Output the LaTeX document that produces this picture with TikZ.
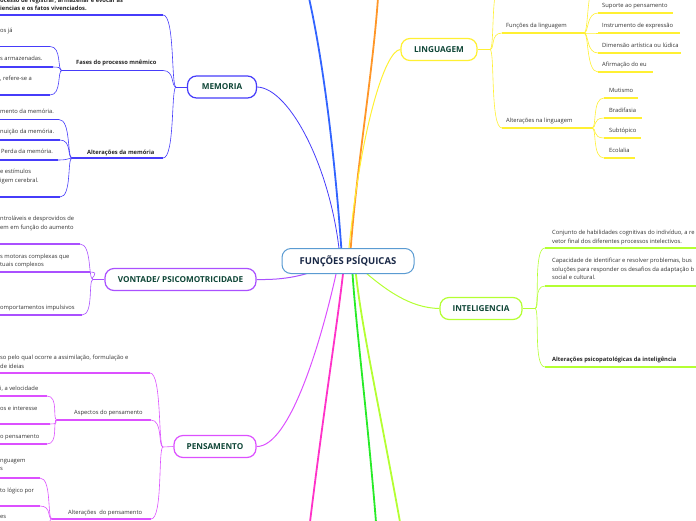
\documentclass[tikz,border=0pt]{standalone}
\usepackage{fontspec}
\setmainfont{Open Sans}
\usetikzlibrary{backgrounds}

\definecolor{memcol}{RGB}{70,60,250}
\definecolor{vontcol}{RGB}{170,80,255}
\definecolor{penscol}{RGB}{220,80,255}
\definecolor{lingcol}{RGB}{255,240,50}
\definecolor{intcol}{RGB}{180,255,50}
\definecolor{offblue}{RGB}{50,100,255}
\definecolor{offorange}{RGB}{255,150,40}
\definecolor{offmag}{RGB}{255,50,200}
\definecolor{offgreen}{RGB}{40,235,40}
\definecolor{cencol}{RGB}{90,155,210}
\definecolor{toptxt}{RGB}{15,70,55}
\definecolor{centxt}{RGB}{25,40,70}
\definecolor{leaftxt}{RGB}{50,50,50}

\begin{document}
\begin{tikzpicture}
  [
  x=1pt, y=-1pt,
  central/.style={draw=cencol, line width=1pt, fill=white, rounded corners=9pt, minimum width=132pt, minimum height=25pt, font=\fontsize{9.5}{11}\selectfont\bfseries, text=centxt},
  topic/.style={draw=#1, line width=1.2pt, fill=white, rounded corners=9pt, minimum height=22pt, inner sep=2pt, font=\fontsize{8.2}{9}\selectfont\bfseries, text=toptxt},
  leaf/.style={inner sep=0pt, align=left, anchor=north west, font=\fontsize{5.8}{8.5}\selectfont, text=leaftxt},
  bleaf/.style={leaf, font=\fontsize{5.8}{8.5}\selectfont\bfseries, text=black!85},
  mainline/.style={line width=1pt},
  offline/.style={line width=1.8pt},
  twig/.style={line width=0.6pt},
  uline/.style={line width=1.5pt},
  lcurve/.style={out=180, in=0, out distance=5pt, in distance=12pt},
  rcurve/.style={out=0, in=180, out distance=5pt, in distance=12pt}
  ]
  \path[use as bounding box] (0,0) rectangle (696,520);
  \clip (0,0) rectangle (696,520);
  \coordinate (L) at (0,0);
  \coordinate (R) at (700,0);

  \node[central] (fp) at (348,261) {FUNÇÕES PSÍQUICAS};
  \node[topic=memcol, minimum width=69pt] (mem) at (222,87) {MEMORIA};
  \node[topic=lingcol, minimum width=76pt] (ling) at (439,49.5) {LINGUAGEM};
  \node[topic=vontcol, minimum width=151pt] (vont) at (180.5,279.5) {VONTADE/ PSICOMOTRICIDADE};
  \node[topic=intcol, minimum width=82pt] (intel) at (481,308.5) {INTELIGENCIA};
  \node[topic=penscol, minimum width=82pt] (pens) at (215,446.5) {PENSAMENTO};

  \coordinate (offA) at (309,-2);
  \coordinate (offB) at (378,-2);
  \coordinate (offC) at (310,522);
  \coordinate (offD) at (376,522);
  \coordinate (offE) at (400,522);

  % memoria
  \coordinate (memH) at (176,87);
  \node[bleaf] (m0) at (0,-2.5) {ocesso de registrar, armazenar e evocar as\\iencias e os fatos vivenciados.};
  \coordinate (m0e) at (163,15);
  \node[bleaf] (fas) at (76,59.5) {Fases do processo mnêmico};
  \coordinate (fasE) at (163,70.5);
  \coordinate (fasH) at (62,70.5);
  \node[leaf] (fa1) at (0,28) {os já};
  \coordinate (fa1e) at (50,46.5);
  \node[leaf] (fa2) at (0,55.5) {s armazenadas.};
  \coordinate (fa2e) at (53,67);
  \node[leaf] (fa3) at (0,76) {, refere-se a};
  \coordinate (fa3e) at (50,95);
  \node[bleaf] (alm) at (87,149.5) {Alterações da memória};
  \coordinate (almE) at (163,158);
  \coordinate (almH) at (72,158);
  \node[leaf] (am1) at (0,109) {mento da memória.};
  \coordinate (am1e) at (59,119.5);
  \node[leaf] (am2) at (0,129) {nuição da memória.};
  \coordinate (am2e) at (60,140);
  \node[leaf] (am3) at (1,149) {Perda da memória.};
  \coordinate (am3e) at (58,160);
  \node[leaf] (am4) at (0,169) {e estímulos\\igem cerebral.};
  \coordinate (am4e) at (60,197);

  % vontade
  \coordinate (vontH) at (93,279.5);
  \node[leaf] (v1) at (0,216) {ntroláveis e desprovidos de\\em em função do aumento};
  \coordinate (v1e) at (80,244);
  \node[leaf] (v2) at (0,253.5) {s motoras complexas que\\tuais complexos};
  \coordinate (v2e) at (90,272);
  \node[leaf] (v3) at (0,305) {omportamentos impulsivos};
  \coordinate (v3e) at (82,315);

  % pensamento
  \coordinate (pensH) at (163,447);
  \node[leaf] (p1) at (0,355) {so pelo qual ocorre a assimilação, formulação e\\de ideias};
  \coordinate (p1e) at (150,373);
  \node[leaf] (asp) at (74,410) {Aspectos do pensamento};
  \coordinate (aspE) at (151,420);
  \coordinate (aspH) at (57,420);
  \node[leaf] (pa1) at (0,386) {i, a velocidade};
  \coordinate (pa1e) at (47,396);
  \node[leaf] (pa2) at (0,406) {os e interesse};
  \coordinate (pa2e) at (50,424);
  \node[leaf] (pa3) at (0,434) {o pensamento};
  \coordinate (pa3e) at (47,444);
  \node[leaf] (alp) at (68,510) {Alterações\ \ do pensamento};
  \coordinate (alpE) at (151,519);
  \coordinate (alpH) at (52,519);
  \node[leaf] (pb1) at (0,459) {nguagem\\s};
  \coordinate (pb1e) at (40,478);
  \node[leaf] (pb2) at (0,488) {to lógico por};
  \coordinate (pb2e) at (40,506);
  \node[leaf] (pb3) at (0,515) {es};
  \coordinate (pb3e) at (40,535);

  % linguagem
  \coordinate (lingH) at (490,49.5);
  \coordinate (lu) at (502,-20);
  \node[leaf] (fn) at (506,23) {Funções da linguagem};
  \coordinate (fnS) at (502,33);
  \coordinate (fnH) at (584,33);
  \coordinate (fnu) at (598,-20);
  \foreach \t/\y/\e [count=\i] in {Suporte ao pensamento/13/673, Instrumento de expressão/33/680, Dimensão artística ou lúdica/53/681, Afirmação do eu/72/653} {
    \node[leaf] (fn\i) at (602,\y-10) {\t};
    \coordinate (fn\i s) at (598,\y);
    \coordinate (fn\i e) at (\e,\y);
  }
  \node[leaf] (al) at (506,118) {Alterações na linguagem};
  \coordinate (alS) at (502,128);
  \coordinate (alH) at (592,128);
  \foreach \t/\y/\e [count=\i] in {Mutismo/98/638, Bradifasia/118/642, Subtópico/138/641, Ecolalia/158/635} {
    \node[leaf] (al\i) at (609,\y-10) {\t};
    \coordinate (al\i s) at (604,\y);
    \coordinate (al\i e) at (\e,\y);
  }

  % inteligencia
  \coordinate (intH) at (535,308.5);
  \node[leaf] (i1) at (552,230) {Conjunto de habilidades cognitivas do indivíduo, a re\\vetor final dos diferentes processos intelectivos.};
  \coordinate (i1s) at (545,248);
  \node[leaf] (i2) at (552,258) {Capacidade de identificar e resolver problemas, bus\\soluções para responder os desafios da adaptação b\\social e cultural.};
  \coordinate (i2s) at (545,286);
  \node[bleaf] (i3) at (552,357) {Alterações psicopatológicas da inteligência};
  \coordinate (i3s) at (545,367);

  \begin{scope}[on background layer]
    \draw[memcol, line width=0.8pt] (mem.east) .. controls (290,88) and (332,170) .. (340,258);
    \draw[offblue, offline] (offA) .. controls (325,70) and (336,170) .. (342,258);
    \draw[offorange, offline] (offB) .. controls (372,80) and (356,170) .. (350,258);
    \draw[lingcol, mainline] (ling.west) .. controls (385,50) and (360,130) .. (348,258);
    \draw[vontcol, mainline] (vont.east) .. controls (285,280) and (305,276) .. (330,265);
    \draw[penscol, mainline] (pens.east) .. controls (290,447) and (322,340) .. (338,265);
    \draw[offmag, offline] (offC) .. controls (325,400) and (338,320) .. (344,265);
    \draw[offgreen, offline] (offD) .. controls (366,400) and (355,320) .. (352,265);
    \draw[intcol, offline] (offE) .. controls (378,400) and (360,320) .. (355,265);
    \draw[intcol, mainline] (intel.west) .. controls (410,308) and (385,290) .. (358,266);

    \draw[memcol, twig] (mem.west) -- (memH);
    \draw[memcol, twig] (memH) to[lcurve] (m0e) edge[uline] (m0e -| L);
    \draw[memcol, twig] (memH) to[lcurve] (fasE) edge[uline] (fasH);
    \draw[memcol, twig] (memH) to[lcurve] (almE) edge[uline] (almH);
    \foreach \n in {fa1e,fa2e,fa3e}
      \draw[memcol, twig] (fasH) to[lcurve] (\n) edge[uline] (\n -| L);
    \foreach \n in {am1e,am2e,am3e,am4e}
      \draw[memcol, twig] (almH) to[lcurve] (\n) edge[uline] (\n -| L);

    \draw[vontcol, twig] (vont.west) -- (vontH);
    \foreach \n in {v1e,v2e,v3e}
      \draw[vontcol, twig] (vontH) to[lcurve] (\n) edge[uline] (\n -| L);

    \draw[penscol, twig] (pens.west) -- (pensH);
    \draw[penscol, twig] (pensH) to[lcurve] (p1e) edge[uline] (p1e -| L);
    \draw[penscol, twig] (pensH) to[lcurve] (aspE) edge[uline] (aspH);
    \draw[penscol, twig] (pensH) to[lcurve] (alpE) edge[uline] (alpH);
    \foreach \n in {pa1e,pa2e,pa3e}
      \draw[penscol, twig] (aspH) to[lcurve] (\n) edge[uline] (\n -| L);
    \foreach \n in {pb1e,pb2e,pb3e}
      \draw[penscol, twig] (alpH) to[lcurve] (\n) edge[uline] (\n -| L);

    \draw[lingcol, twig] (ling.east) -- (lingH);
    \draw[lingcol, twig] (lingH) to[rcurve] (lu);
    \draw[lingcol, twig] (lingH) to[rcurve] (fnS) edge[uline] (fnH);
    \draw[lingcol, twig] (lingH) to[rcurve] (alS) edge[uline] (alH);
    \draw[lingcol, twig] (fnH) to[rcurve] (fnu);
    \foreach \i in {1,...,4} {
      \draw[lingcol, twig] (fnH) to[rcurve] (fn\i s) edge[uline] (fn\i e);
      \draw[lingcol, twig] (alH) to[rcurve] (al\i s) edge[uline] (al\i e);
    }

    \draw[intcol, twig] (intel.east) -- (intH);
    \foreach \n in {i1s,i2s,i3s}
      \draw[intcol, twig] (intH) to[rcurve] (\n) edge[uline] (\n -| R);
  \end{scope}
\end{tikzpicture}
\end{document}
